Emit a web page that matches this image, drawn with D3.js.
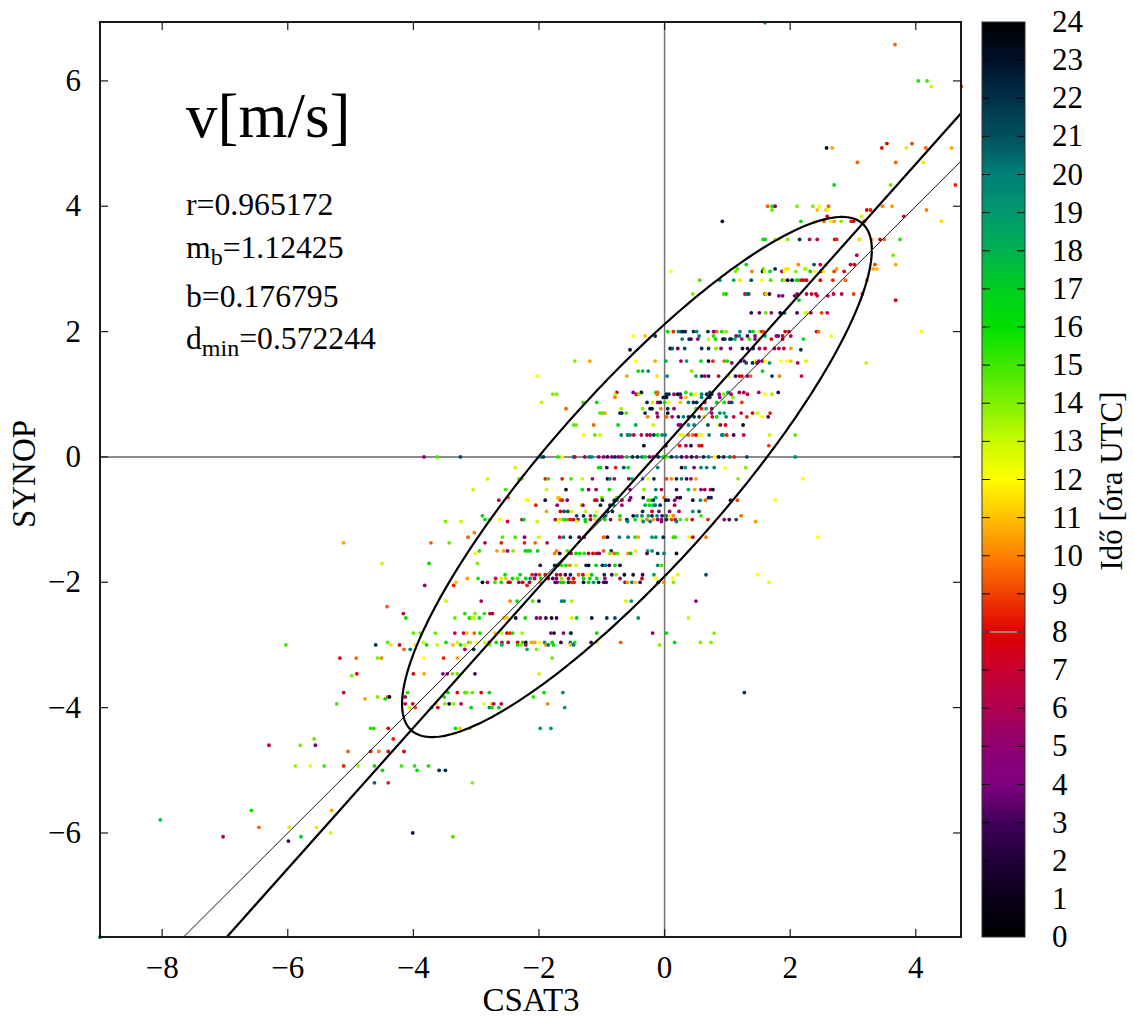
<!DOCTYPE html>
<html><head><meta charset="utf-8">
<script src="https://d3js.org/d3.v7.min.js"></script>
<style>html,body{margin:0;padding:0;background:#fff}svg{display:block}text{font-family:'Liberation Serif',serif;fill:#000}</style>
</head><body><svg id="c" width="1133" height="1017"></svg>
<script>
const xTicks=[-8,-6,-4,-2,0,2,4];
const yTicks=[-6,-4,-2,0,2,4,6];
const hourTicks=d3.range(0,25);
const paletteHours=[0,1,2,3,4,5,6,7,8,9,10,11,12,13,14,15,16,17,18,19,20,21,22,23,24];
const paletteColors=['#000000','#0a0018','#200038','#400058','#800080','#900070','#b00050','#c80030','#e00000','#f04000','#ff8000','#ffc000','#ffff00','#c8fa00','#80f000','#40e800','#00e000','#00d020','#00b050','#009870','#008078','#005060','#003048','#001028','#000000'];
const fitSlope=1.12425, fitIntercept=0.176795, identitySlope=1;
const ellipseCx=-0.44, ellipseCy=-0.32, ellipseW=3.74, ellipseH=4.15, ellipsePhi=0.51;
const synopLevels=[6.93,6.58,6.0,5.91,5.0,4.93,4.70,4.34,4.0,3.94,3.84,3.76,3.47,3.22,3.07,3.0,2.96,2.82,2.60,2.57,2.50,2.30,2.0,1.93,1.88,1.73,1.71,1.53,1.50,1.37,1.29,1.03,1.0,0.95,0.87,0.77,0.70,0.64,0.51,0.35,0.18,0,-0.17,-0.35,-0.52,-0.65,-0.69,-0.77,-0.87,-0.94,-1.0,-1.03,-1.21,-1.28,-1.37,-1.5,-1.54,-1.70,-1.73,-1.88,-1.94,-2.0,-2.05,-2.3,-2.39,-2.5,-2.57,-2.81,-2.96,-3.0,-3.07,-3.21,-3.46,-3.49,-3.76,-3.83,-3.86,-3.94,-4.0,-4.33,-4.5,-4.6,-4.7,-4.93,-5.0,-5.2,-5.64,-5.79,-5.91,-6.0,-6.06,-6.13,-7.66];
const csat3ByLevel=[
[1.60],
[3.67],
[4.04,4.18],
[4.25,4.73],
[3.54,3.94],
[2.58,2.67,3.46,3.85,4.16,4.57],
[3.07,3.68,4.12],
[2.70,3.60,4.63],
[1.64,1.71,1.76,2.11,2.36,2.46,2.61,3.47,3.62],
[1.71,2.43,2.57,2.60,3.22,3.28,4.17],
[2.59,3.14,3.81],
[0.92,2.17,2.39,2.54,2.64,2.70,2.81,2.97,3.01,3.18,4.41],
[1.57,1.60,1.76,1.82,1.96,2.15,2.31,2.43,2.71,2.74,3.10,3.11,3.30,3.43,3.50,3.75],
[3.06,3.64],
[1.30,2.13,2.38,2.48,2.57,2.96,3.02,3.35,3.68],
[1.16,1.57,1.76,1.93,1.96,2.24,2.26,2.74,3.32,3.38],
[0.10,1.13,1.39,1.56,1.59,1.68,1.87,1.91,2.09,2.32,2.39,2.49,2.53,2.70,2.86],
[0.56,0.88,1.10,1.20,1.38,1.55,1.69,1.88,1.91,1.96,2.03,2.10,2.13,2.18,2.21,2.26,2.48,2.68,2.88,3.22],
[0.45,0.94,0.98,1.28,1.31,1.34,1.60,1.61,1.67,2.11,2.26,2.34,2.41,2.69,2.82,3.01,3.15],
[1.82,1.88,2.07,2.43,2.60],
[2.14,3.68],
[1.38,1.51,1.61,1.70,1.84,1.91,2.11,2.24,2.26,2.33,2.50,2.59],
[0.05,0.14,0.22,0.25,0.27,0.30,0.33,0.46,0.51,0.69,0.78,0.80,0.83,0.91,0.98,1.20,1.36,1.41,1.51,1.55,1.57,1.92,1.98,2.42,2.45,4.09],
[-0.50,-0.31,-0.15,0.55,0.78,1.14,1.19,1.32,1.44,1.60,1.78,1.81,1.88,2.01,2.65],
[0.28,0.39,0.42,0.53,0.70,0.81,0.93,0.96,1.04,1.06,1.12,1.23,1.35,1.44,1.51,1.70,1.88,2.21],
[0.09,0.12,0.21,0.32,0.59,0.70,0.82,0.90,1.05,1.24,1.32,1.41,1.51,1.60,1.75,1.82,1.90,2.01],
[-0.55,2.17],
[-1.43,-1.19,-0.46,-0.15,0.02,0.26,0.35,0.58,0.70,0.77,0.95,1.0,1.21,1.27,1.44,1.50,1.56,1.60,1.85,1.95,2.01,2.25],
[1.07,1.30,1.40,1.47,1.67,2.12,3.21],
[-0.42,-0.35,-0.26,0.43,1.56],
[-2.03,-0.60,-0.12,0.04,0.50,0.59,0.64,0.70,0.86,1.02,1.13,1.19,1.23,1.32,1.37,1.71,1.83,2.18],
[-0.76,-0.50,-0.37,-0.14,-0.11,0.34,0.72,1.01,1.19,1.26,1.50,1.81],
[-1.78,-1.72,-0.79,-0.45,-0.41,-0.12,0.03,0.07,0.15,0.21,0.25,0.42,0.49,0.59,0.67,0.75,0.87,0.94,1.06,1.32,1.60,1.71],
[-0.79,-0.02,0.03,0.26,0.34,0.59,0.72,0.88,1.09],
[-1.96,-1.30,-1.08,-0.28,-0.19,-0.11,-0.07,0,0.07,0.25,0.38,0.46,0.51,0.64,0.83,0.95,1.03,1.07,1.23],
[-1.57,-0.69,-0.35,-0.23,-0.20,-0.06,0.05,0.15,0.50,0.59,0.66,0.75],
[-1.03,-0.99,-0.95,-0.71,-0.68,-0.61,-0.31,-0.12,0.05,0.75,0.88,0.95,1.22,1.40,1.48,1.68],
[-0.27,-0.11,0.03,0.12,0.22,0.30,0.38,0.47,0.55,0.63,0.76,0.83,0.98,1.10,1.31,1.55,1.65],
[-1.45,-1.41,-1.13,-0.74,-0.46,-0.18,0.22,0.26,0.38,0.47,0.69,0.87,0.89,0.97,1.25],
[-1.29,-1.11,-1.03,-0.69,-0.59,-0.55,-0.49,-0.37,-0.28,-0.23,-0.17,-0.11,-0.04,0.01,0.25,0.29,0.38,0.45,0.50,0.56,0.60,0.71,0.91,0.93,0.99,1.10,1.26,1.67,2.08],
[-0.33,0.02,0.24,0.34,0.42,0.55,0.59,1.66],
[-3.83,-3.62,-3.25,-1.97,-1.93,-1.70,-1.63,-1.45,-1.43,-1.27,-1.20,-1.16,-1.05,-0.97,-0.91,-0.84,-0.79,-0.73,-0.68,-0.60,-0.51,-0.43,-0.36,-0.31,-0.24,-0.18,-0.10,-0.02,0.03,0.11,0.19,0.27,0.35,0.43,0.51,0.62,0.70,0.80,0.86,0.94,1.04,1.11,1.31,2.08],
[-2.38,-1.05,-1.02,-0.92,-0.78,-0.65,-0.58,-0.11,0.27,0.33,0.47,0.58,0.67,0.79,0.96,1.29],
[-2.82,-2.32,-2.27,-1.90,-1.85,-1.63,-1.49,-1.31,-1.15,-0.91,-0.87,-0.80,-0.57,-0.52,-0.35,-0.26,-0.17,0.03,0.11,0.19,0.27,0.35,0.42,0.50,1.17,2.20],
[-3.05,-2.53,-1.88,-1.57,-1.31,-1.21,-1.09,-0.88,-0.55,-0.33,-0.14,-0.05,0.19,0.38,0.48,0.58,0.64,0.73,0.77],
[-2.49,-1.70,-1.68,-1.0,-0.76,-0.54,-0.34,-0.14,-0.01,0.20,0.25,0.70,0.74],
[-2.64,-2.20,-2.17,-1.90,-1.66,-1.63,-1.55,-1.11,-1.08,-0.99,-0.80,-0.76,-0.68,-0.56,-0.26,-0.22,-0.18,0.02,0.06,0.16,0.45,0.57,0.65,1.05,1.16,1.76],
[-2.05,-1.71,-1.33,-1.30,-1.02,-0.87,-0.81,-0.68,-0.31,-0.24,-0.18,-0.15,-0.07,0.16],
[-1.88,-1.66,-1.60,-1.54,-1.48,-1.26,-1.08,-0.91,-0.83,-0.35,-0.20,-0.09,0.08,0.23,0.45,0.55],
[-2.90,-1.40,-1.29,-1.18,-1.11,-0.97,-0.94,-0.71,-0.50,-0.44,-0.36,-0.26,-0.20,-0.12,-0.04,0.03,0.09,0.14,0.58,1.22],
[-2.86,-2.78,-2.63,-2.27,-2.24,-1.74,-1.67,-1.61,-1.58,-1.53,-1.50,-1.45,-1.38,-1.26,-1.18,-1.11,-1.04,-0.95,-0.86,-0.71,-0.60,-0.47,-0.37,-0.28,-0.18,-0.11,-0.05,0.03,0.11,0.17,0.25,0.35,0.44,0.69,0.95,1.03,1.14],
[-3.49,-3.24,-2.50,-2.03,-1.69,-1.40,-1.26,-0.59,-0.34,-0.23,-0.05,0.19,1.45],
[-3.03],
[-3.13,-2.58,-2.38,-2.23,-2.0,-1.67,-1.61,-1.50,-1.36,-1.28,-0.97,-0.91,-0.72,-0.58,-0.47,-0.42,-0.20,-0.14,-0.02,0.14,0.17,0.39,0.45,0.66,2.44],
[-5.11,-3.72,-3.43,-2.86,-2.60,-2.23,-2.06,-1.87],
[-2.95,-2.67,-2.56,-2.50,-2.41,-2.22,-2.18,-2.14,-2.02,-1.72,-1.55,-0.97,-0.85,-0.46,-0.27,-0.20],
[-3.02,-1.75,-1.67,-1.49,-1.41,-1.35,-1.28,-1.21,-1.14,-1.08,-1.04,-0.87,-0.80,-0.75,-0.58,-0.54,-0.28,-0.11,-0.01,0.19],
[-4.50,-3.75,-2.98],
[-1.98,-1.75,-1.70,-1.64,-1.57,-1.51,-1.41,-1.25,-1.21,-1.09,-0.99,-0.94,-0.88,-0.79,-0.71,-0.11,-0.05],
[-2.54,-2.30,-2.11,-2.05,-1.99,-1.90,-1.72,-1.66,-1.58,-1.50,-1.37,-1.30,-1.22,-1.16,-0.96,-0.84,-0.77,-0.64,-0.50,-0.35,-0.17,0.21,0.66,1.48],
[-3.14,-2.97,-2.69,-2.60,-2.53,-2.42,-2.34,-2.21,-2.14,-2.07,-1.97,-1.85,-1.78,-1.72,-1.64,-1.53,-1.45,-1.29,-1.19,-1.08,-0.95,-0.71,-0.36,-0.14,0.13],
[-3.32,-2.90,-2.82,-2.70,-2.60,-2.49,-2.46,-2.32,-2.26,-2.15,-1.98,-1.74,-1.71,-1.65,-1.61,-1.53,-1.48,-1.44,-1.29,-1.21,-1.13,-1.05,-0.97,-0.93,-0.63,-0.59,-0.52,-0.47,-0.39,-0.10,-0.01,0.14,1.66],
[-3.82,-3.36,-2.19],
[-3.48,-2.92,-2.46,-2.35,-2.10,-2.0,-1.64,-1.60,-1.48,-0.62,-0.53,0.50],
[-4.42],
[-4.16,-3.18,-3.02,-2.87,-2.78,-2.74],
[-4.12,-3.34,-3.11,-3.07,-3.04,-2.95,-2.56,-2.51,-2.37,-2.22,-2.04,-1.98,-1.89,-1.80,-1.72,-1.48,-1.40,-1.16,-0.92,-0.79,-0.42,0.38],
[-4.0,-3.89,-3.65,-3.34,-3.20,-3.15,-3.03,-2.94,-2.70,-2.59,-2.51,-2.46,-2.42,-2.27,-1.81,-1.76,-1.61,-1.50,-1.49,-1.08,-0.19,0.03,0.79],
[-4.41,-3.84,-3.48,-3.30,-3.12,-3.09,-2.99,-2.86,-2.79,-2.68,-2.59,-2.49,-2.34,-2.26,-2.21,-2.12,-2.07,-1.99,-1.91,-1.79,-1.65,-1.50,-1.43,-1.17,-1.08,-0.70,0.16,0.57,0.74],
[-6.03,-4.60,-4.36,-4.22,-3.97,-3.79,-3.62,-3.37,-3.25,-3.18,-2.78,-2.59,-2.34,-2.28,-2.21,-1.89,-1.85,-1.77,-1.50,-1.45,-0.08],
[-4.15,-4.05,-3.18,-3.04,-2.19,-2.04],
[-5.17,-4.91,-4.57,-4.51,-3.83,-3.52,-3.30,-1.79],
[-4.90,-4.0,-3.83,-3.53,-3.46,-3.38,-3.30,-3.02,-2.0],
[-4.98],
[-5.11,-4.09,-3.45,-3.30,-3.18,-3.15,-3.06,-2.92,-2.79,-1.92,-1.62,1.27],
[-4.57,-4.41,-4.38,-4.13,-3.51,-2.09],
[-4.77,-4.45],
[-5.22,-4.13,-4.01,-3.64,-3.50,-3.43,-3.36,-3.24,-2.87,-2.75,-2.72,-2.60,-1.86],
[-4.06,-3.97,-3.71,-3.61,-3.08,-2.79,-2.75,-2.64,-1.59],
[-4.68,-4.63,-4.40,-3.33,-3.26,-3.10,-1.98,-1.81],
[-5.58,-4.32],
[-6.30,-5.80,-5.56],
[-5.04,-4.68,-4.55,-4.40,-4.15],
[-5.88,-5.64,-5.42,-5.11,-4.88,-4.62,-4.19,-3.98,-3.76],
[-4.49,-3.94,-3.59,-3.49],
[-4.62,-4.40,-3.06],
[-6.58,-5.30],
[-8.03],
[-6.46,-5.98,-5.54],
[-5.32,-4.01],
[-7.03,-5.79,-3.37],
[-5.99],
[-8.99]
];
const hourByLevel=[
[18],
[9.5],
[15.5,15],
[13,9],
[8,9],
[23,10.5,8,11.5,9.5,10.5],
[9.5,9.5,11.5],
[17,14.5,8.5],
[9.5,15.5,5,14,14,12,9.5,10,10.5],
[14.5,11,11,12.5,8,8.5,10],
[7,13,7.5],
[23,16,12.5,9.5,12.5,10.5,14,8.5,7.5,7.5,11.5],
[16,16,13.5,12.5,14,22,6.5,7,8,8.5,10.5,11.5,11,7.5,9.5,15.5],
[7,14],
[16,10,21,6.5,11,7,8,9,10.5],
[14.5,14.5,22,11.5,11.5,14.5,13,10.5,10.5,11],
[12,14,10,23,13,16,5.5,12,14,16,12,6.5,11.5,9,7],
[15,19.5,18,11.5,21,12,15,16,11,23,23,16,16,8,8,7,8,8.5,9.5,10],
[14,15,16,7,20,21,23,11,3,5.5,7,7,7,6.5,7,9,6.5],
[4.5,4.5,4,7,6],
[17,7.5],
[3,3.5,14.5,5,2,21,3,12.5,13,5.5,9,7],
[16,8.5,20,20,21,2,22,22,20,22,5,5,9.5,16,14,20,20,16,13,7,9,8,7,7,9.5,12],
[12,11,22,20,15.5,4,20,3,5,18,5,4.5,6.5,7,12],
[20,22,3,4,13,16,1,22,22,22,18,5.5,15,5,13,8,7,16.5],
[23,21,3.5,21,22,22,14,4.5,4,23,3,22,5,6.5,7,6,6.5,10.5],
[23,22],
[14,10.5,12,10.5,18,5,19,17,1,8.5,9.5,16,3,4,13,4,5,12,12,12,11,13],
[5,21,22,5,19,6,13],
[16,17.5,19.5,14,17],
[12,10.5,11.5,20,18,22,5,3,6,13,23,7,8,4.5,9.5,22,10,7],
[6.5,4,23,16,9.5,15.5,21,18,5,6.5,6,3],
[14,14,13,6.5,14,9.5,22,22,5,1,22,15.5,12,20,22,22,5,14,6,7,12,13.5],
[10,23,23,5.5,11,20,22,4.5,14],
[13,15,16,22,13,5,2,16,12,11,20,22,22,5.5,16,16,5,21,9],
[9.5,13.5,14,23,23,10,22,4,15,8.5,18,5.5],
[14.5,15,10.5,22,22,15,22,5,23,5,19.5,18,7,8,13,8.5],
[10,5,9.5,6,22,20,22,22,22,11,7,16,20,6,8.5,12,3],
[14.5,14.5,9.5,16,18,13,4,5,19.5,20,21,13,6,8,23],
[12,14.5,13,20,20,20,6.5,6,5,6,22,16,20,20,12.5,12.5,9.5,9.5,7,12,12,20,20,20,8.5,3,7,13,14.5],
[23,2,8,5.5,2,8.5,8,9],
[4.5,15,21,20,22,15.5,12,20,7,5,20,20,5,5,3,4,22,5,5,17,22,22,20,16,4,5,22,16,14.5,22,20,3,4,2,4,22,19.5,12,2,22,20,8.5,21,19.5],
[13,16,16,3,8.5,21,16,20,2,19,4,19.5,20,20,12,14],
[13,14.5,14.5,8.5,15.5,8.5,15,13,5.5,2,20,5.5,5,18,20,12,22,9,10,22,20,3,5,10.5,14],
[13,15,13,23,16,5,6,16,5,14,20,6.5,3,18,10.5,5,5.5,6.5,23],
[9.5,11,11,14.5,15.5,5,23,18,9.5,3,2,3,22],
[6.5,12,12,23,9.5,8.5,4,8,7,22,22,20,6.5,5,15.5,15.5,22,2,22,5,2,19,9.5,3,9,12],
[8.5,5,13,5,22,22,20,5.5,18,16,19,20,22,6],
[10.5,8,21,21,11.5,13,12,22,22,22,8,4,5.5,6.5,19,21],
[16,21,22,6.5,16,5.5,20,16,23,20,20,18,22,20,3,20,12,10,15,9.5],
[16,15,12,6,16,6.5,11,15.5,15.5,9.5,8.5,7,5.5,17,6.5,11.5,15,16,5,10,23,16,12.5,10,10.5,5,5.5,22,9,7,15,14.5,8,8.5,5,3,21],
[14,13,6.5,13,12.5,12.5,16,20,20,20,5,20,10.5],
[10],
[9.5,14.5,15,4.5,13,6.5,20,22,3,7,9.5,2,20,20,15.5,10.5,19,19,22,15.5,15.5,12.5,7,10,12],
[10.5,9.5,14.5,6.5,8.5,8.5,9.5,6.5],
[15.5,10.5,10.5,5.5,14,16,16.5,16,16.5,10,15,9.5,22,11.5,18,19],
[12,10,2,6,16,16,15.5,7,8,6.5,5,14,9.5,15,10,17,3,22,20,23],
[13,16,14],
[3,22,22,15.5,16,10,13,22,23,17,22,20,3,17,2,20,15],
[16,16,8.5,4.5,9,8,7,7,3,22,9.5,7,12,17,22,3,14,23,2,3,19,12.5,21,12],
[10.5,15.5,7,13,11,16,15,17,19,6,16,7,3,4,14,7,8,16,16,16.5,5,5.5,7,12,12],
[11,23,5.5,15,16,7,7,5.5,7,6,10,3,4,16,16,22,8.5,8.5,23,16,19,22,3,3,6.5,10.5,20,11,3,23,10,14,12.5],
[5,8.5,8.5],
[13,5.5,10,16,15,23,20,20,13.5,13,19,5],
[9.5],
[6,15.5,14,15.5,6.5,6],
[16,14.5,16,14,13,16,11,11,23,16,4.5,5,3,23,3,13,17,23,22,21,19.5,13],
[14.5,14.5,14.5,6.5,6.5,11,9.5,16,11,13,8,8.5,16,13.5,4,23,4.5,16,23,16,4.5,16,14],
[14.5,13,16,13,15,11,12,13,7,16,6.5,7,8,16,23,10.5,10.5,12,19,16,3,20,15.5,3,13,9.5,16,14,14],
[15,22,11.5,6.5,11.5,16,13,11,16,13,14,18,16,14,5.5,10,20,16,11,20,14],
[9.5,20,6.5,22,18,14],
[8,9.5,14,10,12,8.5,10.5,14.5],
[8,7.5,10.5,4,5,14.5,14.5,3,13],
[14],
[6.5,15.5,16,8,15,14.5,14.5,8,17,16,19.5,22],
[14,9.5,1,5,16,15.5],
[10.5,16],
[15,7,8,11.5,14,23,14,6.5,12.5,11,6,7,10],
[13,9,20,7,17,20,16,17,19],
[15.5,15.5,8,16,11,14,19,19],
[14.5,8.5],
[6.5,14,4],
[9.5,8.5,10,8,8],
[13.5,12.5,15,8.5,13.5,16,15,15.5,15.5],
[16,16,22,22],
[20.5,8.5,14],
[16,10.5],
[17.5],
[9.5,11.5,11.5],
[13,2],
[6,17,15],
[3],
[21]
];

const svg=d3.select('#c');
const pL=100,pR=961,pT=22,pB=937;
const xS=d3.scaleLinear().domain([-8.99,4.72]).range([pL,pR]);
const yS=d3.scaleLinear().domain([-7.66,6.94]).range([pB,pT]);
const cS=d3.scaleLinear().domain(paletteHours).range(paletteColors).interpolate(d3.interpolateRgb);
const barX=982,barW=43;
const hS=d3.scaleLinear().domain([0,24]).range([pB,pT]);
const fs=31, labelFs=33, noteFs=31.7, subFs=24;
const axisColor='#1a1a1a';

const defs=svg.append('defs');
defs.append('clipPath').attr('id','pc').append('rect').attr('x',pL-2).attr('y',pT-2).attr('width',pR-pL+4).attr('height',pB-pT+4);
defs.append('clipPath').attr('id','pr').append('rect').attr('x',pL).attr('y',pT).attr('width',pR-pL).attr('height',pB-pT);
const grad=defs.append('linearGradient').attr('id','pal').attr('x1',0).attr('x2',0).attr('y1',1).attr('y2',0);
paletteHours.forEach((h,i)=>grad.append('stop').attr('offset',h/24).attr('stop-color',paletteColors[i]));

// zero axes
svg.append('line').attr('x1',pL).attr('x2',pR).attr('y1',yS(0)).attr('y2',yS(0)).attr('stroke','#666').attr('stroke-width',1.5);
svg.append('line').attr('x1',xS(0)).attr('x2',xS(0)).attr('y1',pT).attr('y2',pB).attr('stroke','#777').attr('stroke-width',1.5);

// points
const pts=[];
synopLevels.forEach((y,i)=>csat3ByLevel[i].forEach((x,j)=>pts.push({x,y,h:hourByLevel[i][j]})));
svg.append('g').attr('clip-path','url(#pc)').selectAll('circle').data(pts).join('circle')
 .attr('cx',d=>xS(d.x)).attr('cy',d=>yS(d.y)).attr('r',1.9).attr('fill',d=>cS(d.h===undefined?12:d.h));

// lines
const plot=svg.append('g').attr('clip-path','url(#pr)');
const ln=d3.line().x(d=>xS(d[0])).y(d=>yS(d[1]));
const xd=[-9,4.72];
plot.append('path').attr('d',ln(xd.map(x=>[x,identitySlope*x]))).attr('fill','none').attr('stroke','#000').attr('stroke-width',0.9);
plot.append('path').attr('d',ln(xd.map(x=>[x,fitSlope*x+fitIntercept]))).attr('fill','none').attr('stroke','#000').attr('stroke-width',2.2);
const ts=d3.range(0,Math.PI*2+0.01,0.02);
plot.append('path').attr('d',ln(ts.map(t=>[ellipseCx+ellipseW*Math.cos(t),ellipseCy+ellipseH*Math.cos(t-ellipsePhi)]))).attr('fill','none').attr('stroke','#000').attr('stroke-width',2.2);

// frame and ticks
const tk=8;
const tg=svg.append('g').attr('stroke',axisColor).attr('stroke-width',1.2);
xTicks.forEach(t=>{tg.append('line').attr('x1',xS(t)).attr('x2',xS(t)).attr('y1',pB).attr('y2',pB-tk);tg.append('line').attr('x1',xS(t)).attr('x2',xS(t)).attr('y1',pT).attr('y2',pT+tk);});
yTicks.forEach(t=>{tg.append('line').attr('y1',yS(t)).attr('y2',yS(t)).attr('x1',pL).attr('x2',pL+tk);tg.append('line').attr('y1',yS(t)).attr('y2',yS(t)).attr('x1',pR).attr('x2',pR-tk);});
svg.append('rect').attr('x',pL).attr('y',pT).attr('width',pR-pL).attr('height',pB-pT).attr('fill','none').attr('stroke',axisColor).attr('stroke-width',2);

const fmt=t=>(t<0?'\u2212':'')+Math.abs(t);
svg.append('g').selectAll('text').data(xTicks).join('text').attr('x',d=>xS(d)).attr('y',978).attr('text-anchor','middle').attr('font-size',fs).text(fmt);
svg.append('g').selectAll('text').data(yTicks).join('text').attr('x',81).attr('y',d=>yS(d)+10).attr('text-anchor','end').attr('font-size',fs).text(fmt);

svg.append('text').attr('x',531).attr('y',1011).attr('text-anchor','middle').attr('font-size',labelFs).text('CSAT3');
svg.append('text').attr('transform','translate(35,474) rotate(-90)').attr('text-anchor','middle').attr('font-size',labelFs).text('SYNOP');

// annotations
svg.append('text').attr('x',186).attr('y',137).attr('font-size',63).text('v[m/s]');
svg.append('text').attr('x',186).attr('y',215).attr('font-size',noteFs).text('r=0.965172');
const t2=svg.append('text').attr('x',186).attr('y',258).attr('font-size',noteFs);
t2.append('tspan').text('m');t2.append('tspan').attr('font-size',subFs).attr('dy',7).text('b');t2.append('tspan').attr('dy',-7).text('=1.12425');
svg.append('text').attr('x',186).attr('y',307).attr('font-size',noteFs).text('b=0.176795');
const t4=svg.append('text').attr('x',186).attr('y',349).attr('font-size',noteFs);
t4.append('tspan').text('d');t4.append('tspan').attr('font-size',subFs).attr('dy',7).text('min');t4.append('tspan').attr('dy',-7).text('=0.572244');

// colour bar
svg.append('rect').attr('x',barX).attr('y',pT).attr('width',barW).attr('height',pB-pT).attr('fill','url(#pal)');
svg.append('rect').attr('x',barX).attr('y',hS(8)-0.5).attr('width',barW).attr('height',1).attr('fill','#a0e0e0');
const bg=svg.append('g').attr('stroke','#000').attr('stroke-width',1);
hourTicks.slice(1,-1).forEach(h=>{bg.append('line').attr('x1',barX).attr('x2',barX+8).attr('y1',hS(h)).attr('y2',hS(h));bg.append('line').attr('x1',barX+barW).attr('x2',barX+barW-8).attr('y1',hS(h)).attr('y2',hS(h));});
svg.append('rect').attr('x',barX).attr('y',pT).attr('width',barW).attr('height',pB-pT).attr('fill','none').attr('stroke','#333').attr('stroke-width',1);
svg.append('g').selectAll('text').data(hourTicks).join('text').attr('x',1052).attr('y',d=>hS(d)+10).attr('font-size',fs).text(d=>d);
svg.append('text').attr('transform','translate(1122,481) rotate(-90)').attr('text-anchor','middle').attr('font-size',fs).text('Idő [óra UTC]');
</script></body></html>
